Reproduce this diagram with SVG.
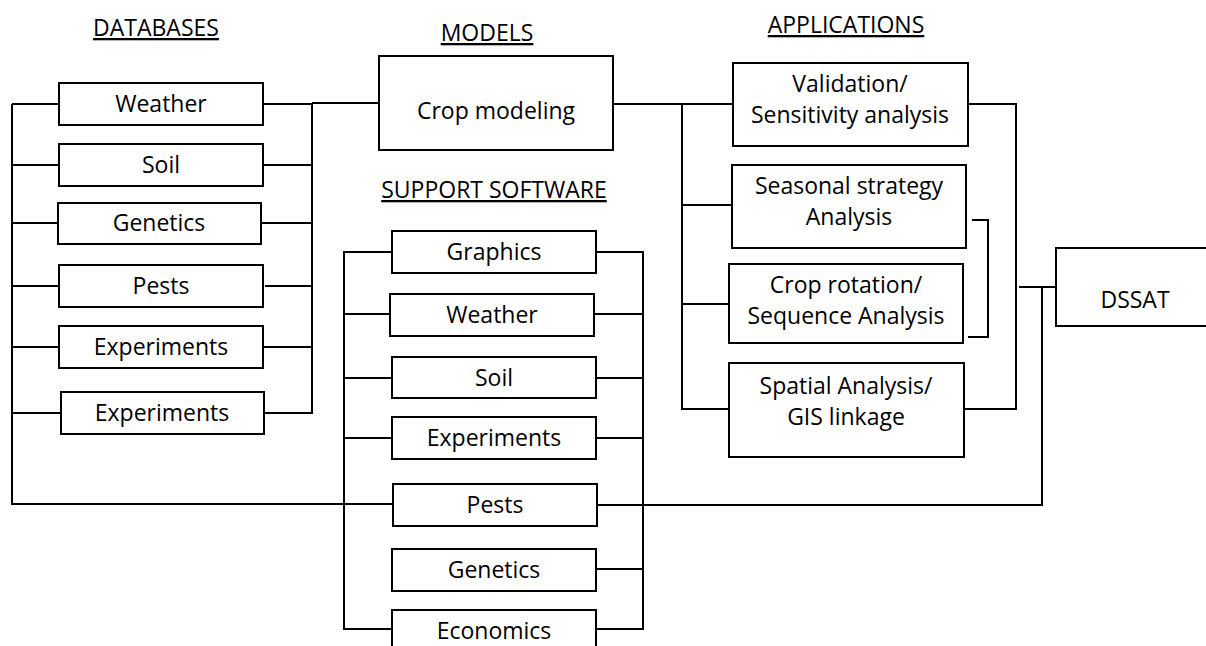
<svg xmlns="http://www.w3.org/2000/svg" width="1206" height="646" viewBox="0 0 1206 646">
<style>
.box{fill:#fff;stroke:#000;stroke-width:2}
.ln{fill:none;stroke:#000;stroke-width:2}
text{font-family:"Open Sans","Noto Sans",sans-serif;font-size:23px;fill:#000;text-anchor:middle}
.hd{text-decoration:underline}
</style>
<rect width="1206" height="646" fill="#fff"/>
<g id="headers">
<text class="hd" x="156" y="36">DATABASES</text>
<text class="hd" x="487" y="41">MODELS</text>
<text class="hd" x="846" y="33">APPLICATIONS</text>
<text class="hd" x="494" y="198">SUPPORT SOFTWARE</text>
</g>
<g id="connectors">
<polyline class="ln" points="12,104 12,504 393,504"/>
<line class="ln" x1="12" y1="104" x2="59" y2="104"/>
<line class="ln" x1="12" y1="165" x2="59" y2="165"/>
<line class="ln" x1="12" y1="223" x2="58" y2="223"/>
<line class="ln" x1="12" y1="286" x2="59" y2="286"/>
<line class="ln" x1="12" y1="347" x2="59" y2="347"/>
<line class="ln" x1="12" y1="413" x2="61" y2="413"/>
<polyline class="ln" points="263,104 312,104 312,413 264,413"/>
<line class="ln" x1="264" y1="165" x2="312" y2="165"/>
<line class="ln" x1="261" y1="223" x2="312" y2="223"/>
<line class="ln" x1="265" y1="286" x2="312" y2="286"/>
<line class="ln" x1="263" y1="347" x2="312" y2="347"/>
<line class="ln" x1="312" y1="103" x2="379" y2="103"/>
<line class="ln" x1="613" y1="104" x2="733" y2="104"/>
<polyline class="ln" points="682,104 682,409 729,409"/>
<line class="ln" x1="682" y1="205" x2="732" y2="205"/>
<line class="ln" x1="682" y1="304" x2="729" y2="304"/>
<polyline class="ln" points="968,104 1016,104 1016,409 964,409"/>
<polyline class="ln" points="972,220 988,220 988,337 968,337"/>
<line class="ln" x1="1019" y1="287" x2="1056" y2="287"/>
<polyline class="ln" points="1042,287 1042,505 597,505"/>
<polyline class="ln" points="392,252 344,252 344,629 392,629"/>
<polyline class="ln" points="596,252 643,252 643,629 596,629"/>
<line class="ln" x1="344" y1="314" x2="390" y2="314"/>
<line class="ln" x1="594" y1="314" x2="643" y2="314"/>
<line class="ln" x1="344" y1="378" x2="392" y2="378"/>
<line class="ln" x1="596" y1="378" x2="643" y2="378"/>
<line class="ln" x1="344" y1="438" x2="392" y2="438"/>
<line class="ln" x1="596" y1="438" x2="643" y2="438"/>
<line class="ln" x1="596" y1="569" x2="643" y2="569"/>
</g>
<g id="db-weather"><rect class="box" x="59" y="83" width="204" height="42"/><text x="161" y="112">Weather</text></g>
<g id="db-soil"><rect class="box" x="59" y="144" width="204" height="42"/><text x="161" y="173">Soil</text></g>
<g id="db-genetics"><rect class="box" x="58" y="203" width="203" height="41"/><text x="159" y="231">Genetics</text></g>
<g id="db-pests"><rect class="box" x="59" y="265" width="204" height="42"/><text x="161" y="294">Pests</text></g>
<g id="db-experiments1"><rect class="box" x="59" y="326" width="204" height="42"/><text x="161" y="355">Experiments</text></g>
<g id="db-experiments2"><rect class="box" x="61" y="392" width="203" height="42"/><text x="162" y="421">Experiments</text></g>
<g id="crop-modeling"><rect class="box" x="379" y="56" width="234" height="94"/><text x="496" y="119">Crop modeling</text></g>
<g id="app-validation"><rect class="box" x="733" y="63" width="235" height="83"/><text x="850" y="92">Validation/</text><text x="850" y="123">Sensitivity analysis</text></g>
<g id="app-seasonal"><rect class="box" x="732" y="165" width="234" height="83"/><text x="849" y="194">Seasonal strategy</text><text x="849" y="225">Analysis</text></g>
<g id="app-rotation"><rect class="box" x="729" y="264" width="234" height="79"/><text x="846" y="293">Crop rotation/</text><text x="846" y="324">Sequence Analysis</text></g>
<g id="app-spatial"><rect class="box" x="729" y="363" width="235" height="94"/><text x="846" y="394">Spatial Analysis/</text><text x="846" y="425">GIS linkage</text></g>
<g id="dssat"><rect class="box" x="1056" y="248" width="170" height="78"/><text x="1135" y="308">DSSAT</text></g>
<g id="ss-graphics"><rect class="box" x="392" y="231" width="204" height="42"/><text x="494" y="260">Graphics</text></g>
<g id="ss-weather"><rect class="box" x="390" y="294" width="204" height="42"/><text x="492" y="323">Weather</text></g>
<g id="ss-soil"><rect class="box" x="392" y="357" width="204" height="41"/><text x="494" y="386">Soil</text></g>
<g id="ss-experiments"><rect class="box" x="392" y="417" width="204" height="42"/><text x="494" y="446">Experiments</text></g>
<g id="ss-pests"><rect class="box" x="393" y="484" width="204" height="42"/><text x="495" y="513">Pests</text></g>
<g id="ss-genetics"><rect class="box" x="392" y="549" width="204" height="42"/><text x="494" y="578">Genetics</text></g>
<g id="ss-economics"><rect class="box" x="392" y="610" width="204" height="50"/><text x="494" y="639">Economics</text></g>
</svg>
